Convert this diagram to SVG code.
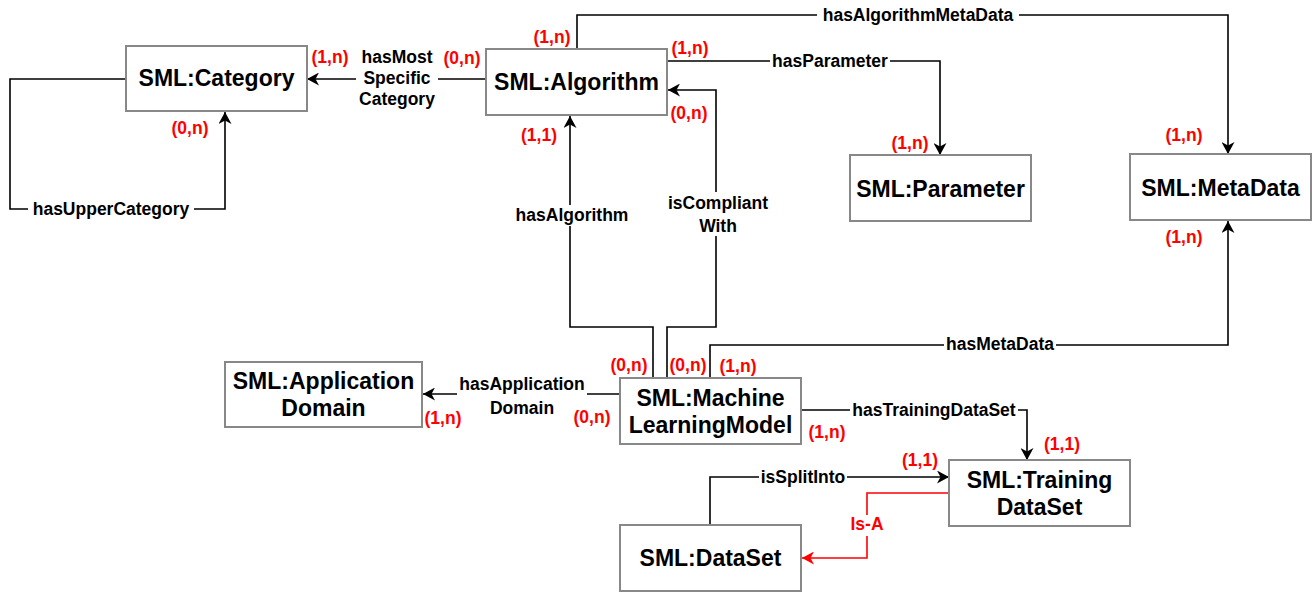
<svg xmlns="http://www.w3.org/2000/svg" width="1312" height="592" viewBox="0 0 1312 592">
  <style>
    .node rect { fill: #ffffff; stroke: #888888; stroke-width: 2; }
    .node text { font-family: "Liberation Sans", Arial, sans-serif; font-weight: bold; font-size: 23px; fill: #000000; text-anchor: middle; }
    .edge { fill: none; stroke: #000000; stroke-width: 1.6; }
    .edge.isa { stroke: #ff0000; }
    .lbl { font-family: "Liberation Sans", Arial, sans-serif; font-weight: bold; font-size: 17.5px; fill: #000000; text-anchor: middle; }
    .lbl.red { fill: #ff0000; }
    .bg { fill: #ffffff; }
    .card { font-family: "Liberation Sans", Arial, sans-serif; font-weight: bold; font-size: 17.5px; fill: #ff0000; text-anchor: middle; }
  </style>
  <defs>
    <marker id="arrow" viewBox="0 0 13 13" refX="12" refY="6.5" markerWidth="13" markerHeight="13" markerUnits="userSpaceOnUse" orient="auto">
      <path d="M0,0 L12,6.5 L0,13 L3.5,6.5 z" fill="#000000"/>
    </marker>
    <marker id="arrow-red" viewBox="0 0 13 13" refX="12" refY="6.5" markerWidth="13" markerHeight="13" markerUnits="userSpaceOnUse" orient="auto">
      <path d="M0,0 L12,6.5 L0,13 L3.5,6.5 z" fill="#ff0000"/>
    </marker>
  </defs>
  <rect width="1312" height="592" fill="#ffffff"/>

  <!-- connectors -->
  <g id="connectors">
    <path class="edge" d="M486,79 H307" marker-end="url(#arrow)"/>
    <path class="edge" d="M126,79 H10 V209 H225 V112" marker-end="url(#arrow)"/>
    <path class="edge" d="M577,49 V15 H1228 V154" marker-end="url(#arrow)"/>
    <path class="edge" d="M667,61 H940 V155" marker-end="url(#arrow)"/>
    <path class="edge" d="M653,378 V327 H570 V116" marker-end="url(#arrow)"/>
    <path class="edge" d="M667,378 V327 H716 V90 H668" marker-end="url(#arrow)"/>
    <path class="edge" d="M710,378 V345 H1228 V221" marker-end="url(#arrow)"/>
    <path class="edge" d="M620,394 H423" marker-end="url(#arrow)"/>
    <path class="edge" d="M801,410 H1027 V460" marker-end="url(#arrow)"/>
    <path class="edge" d="M710,525 V477 H949" marker-end="url(#arrow)"/>
    <path class="edge isa" d="M949,493 H867 V558 H802" marker-end="url(#arrow-red)"/>

    <!-- connector labels -->
    <rect class="bg" x="356" y="48" width="82" height="62"/>
    <text class="lbl" x="397" y="63">hasMost</text>
    <text class="lbl" x="397" y="84">Specific</text>
    <text class="lbl" x="397" y="105">Category</text>

    <rect class="bg" x="28" y="200" width="166" height="18"/>
    <text class="lbl" x="111" y="215">hasUpperCategory</text>

    <rect class="bg" x="817" y="6" width="202" height="18"/>
    <text class="lbl" x="918" y="21">hasAlgorithmMetaData</text>

    <rect class="bg" x="770" y="52" width="120" height="18"/>
    <text class="lbl" x="830" y="67">hasParameter</text>

    <rect class="bg" x="513" y="205" width="118" height="21"/>
    <text class="lbl" x="572" y="221">hasAlgorithm</text>

    <rect class="bg" x="666" y="192" width="104" height="44"/>
    <text class="lbl" x="718" y="208.5">isCompliant</text>
    <text class="lbl" x="718" y="231.5">With</text>

    <rect class="bg" x="944" y="335" width="112" height="18"/>
    <text class="lbl" x="1000" y="350">hasMetaData</text>

    <rect class="bg" x="457" y="374" width="130" height="44"/>
    <text class="lbl" x="522" y="389.5">hasApplication</text>
    <text class="lbl" x="522" y="413.5">Domain</text>

    <rect class="bg" x="850" y="401" width="168" height="18"/>
    <text class="lbl" x="934" y="416">hasTrainingDataSet</text>

    <rect class="bg" x="759" y="468" width="88" height="18"/>
    <text class="lbl" x="803" y="483">isSplitInto</text>

    <rect class="bg" x="849" y="515" width="36" height="21"/>
    <text class="lbl red" x="867" y="530">Is-A</text>

    <!-- cardinalities -->
    <text class="card" x="330" y="63">(1,n)</text>
    <text class="card" x="190" y="134">(0,n)</text>
    <text class="card" x="462" y="64">(0,n)</text>
    <text class="card" x="552" y="43">(1,n)</text>
    <text class="card" x="690" y="54">(1,n)</text>
    <text class="card" x="689" y="119">(0,n)</text>
    <text class="card" x="539" y="141">(1,1)</text>
    <text class="card" x="910" y="149">(1,n)</text>
    <text class="card" x="1184" y="141">(1,n)</text>
    <text class="card" x="1184" y="243">(1,n)</text>
    <text class="card" x="629" y="371">(0,n)</text>
    <text class="card" x="688" y="371">(0,n)</text>
    <text class="card" x="738" y="372">(1,n)</text>
    <text class="card" x="592" y="423">(0,n)</text>
    <text class="card" x="443" y="424">(1,n)</text>
    <text class="card" x="827" y="438">(1,n)</text>
    <text class="card" x="1062" y="450">(1,1)</text>
    <text class="card" x="920" y="466">(1,1)</text>
  </g>

  <!-- nodes -->
  <g id="category" class="node">
    <rect x="126" y="46" width="181" height="65"/>
    <text x="216.5" y="86">SML:Category</text>
  </g>
  <g id="algorithm" class="node">
    <rect x="486" y="49" width="181" height="66"/>
    <text x="576.5" y="90">SML:Algorithm</text>
  </g>
  <g id="parameter" class="node">
    <rect x="850" y="155" width="181" height="66"/>
    <text x="940.5" y="197">SML:Parameter</text>
  </g>
  <g id="metadata" class="node">
    <rect x="1130" y="154" width="181" height="66"/>
    <text x="1220.5" y="196">SML:MetaData</text>
  </g>
  <g id="application-domain" class="node">
    <rect x="225" y="362" width="197" height="65"/>
    <text x="323.5" y="389">SML:Application</text>
    <text x="323.5" y="416">Domain</text>
  </g>
  <g id="ml-model" class="node">
    <rect x="620" y="378" width="181" height="66"/>
    <text x="710.5" y="405.5">SML:Machine</text>
    <text x="710.5" y="432.5">LearningModel</text>
  </g>
  <g id="training-dataset" class="node">
    <rect x="949" y="460" width="181" height="66"/>
    <text x="1039.5" y="487.5">SML:Training</text>
    <text x="1039.5" y="514.5">DataSet</text>
  </g>
  <g id="dataset" class="node">
    <rect x="620" y="525" width="181" height="66"/>
    <text x="710.5" y="566">SML:DataSet</text>
  </g>
</svg>
